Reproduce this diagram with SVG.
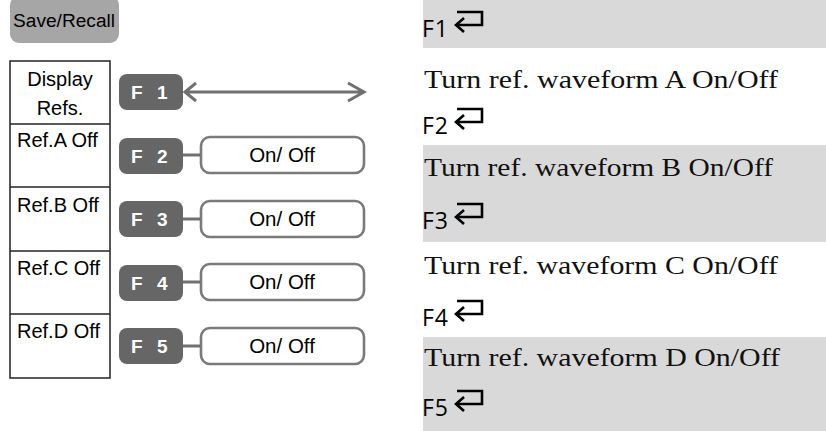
<svg xmlns="http://www.w3.org/2000/svg" width="826" height="431" viewBox="0 0 826 431">
<style>
.sans{font-family:"Liberation Sans",Arial,sans-serif;fill:#000}
.menu{font-size:20px}
.fbtn rect{fill:#666666}
.fbtn text{font-family:"Liberation Sans",Arial,sans-serif;font-weight:bold;font-size:19px;fill:#ffffff}
.onoff rect{fill:#ffffff;stroke:#7a7a7a;stroke-width:2.6}
.onoff text{font-family:"Liberation Sans",Arial,sans-serif;font-size:20.5px;fill:#000;text-anchor:middle}
.conn{stroke:#707070;stroke-width:3;fill:none}
.band{fill:#d9d9d9}
.desc{font-family:"Liberation Serif","Times New Roman",serif;font-size:26px;fill:#111}
.fk{font-family:"Open Sans","Noto Sans",sans-serif;font-size:23px;letter-spacing:1px;fill:#000}
.ret{stroke:#000;stroke-width:2.6;fill:none}
</style>
<defs>
<path id="ret" class="ret" d="M34,-24 H59 V-11 H33 M41,-18 L33,-11 L41,-4"/>
</defs>
<rect width="826" height="431" fill="#ffffff"/>

<g id="save-recall">
<rect x="10" y="-4" width="109" height="47" rx="9" fill="#a6a6a6"/>
<text class="sans" x="13" y="27" font-size="18" textLength="102" lengthAdjust="spacingAndGlyphs">Save/Recall</text>
</g>

<g id="menu">
<rect x="10" y="61" width="100" height="317" fill="#ffffff" stroke="#222" stroke-width="1.5"/>
<line x1="10" y1="124" x2="110" y2="124" stroke="#222" stroke-width="1.5"/>
<line x1="10" y1="187" x2="110" y2="187" stroke="#222" stroke-width="1.5"/>
<line x1="10" y1="251" x2="110" y2="251" stroke="#222" stroke-width="1.5"/>
<line x1="10" y1="314" x2="110" y2="314" stroke="#222" stroke-width="1.5"/>
<text class="sans menu" x="60" y="86" text-anchor="middle">Display</text>
<text class="sans menu" x="60" y="115" text-anchor="middle">Refs.</text>
<text class="sans menu" x="17" y="147">Ref.A Off</text>
<text class="sans menu" x="17" y="212">Ref.B Off</text>
<text class="sans menu" x="17" y="275">Ref.C Off</text>
<text class="sans menu" x="17" y="338">Ref.D Off</text>
</g>

<g id="f1" class="fbtn"><rect x="119" y="74" width="64" height="36" rx="8"/><text x="131" y="99">F</text><text x="157" y="99">1</text></g>
<g id="f2" class="fbtn"><rect x="119" y="138" width="64" height="36" rx="8"/><text x="131" y="163">F</text><text x="157" y="163">2</text></g>
<g id="f3" class="fbtn"><rect x="119" y="201" width="64" height="36" rx="8"/><text x="131" y="226">F</text><text x="157" y="226">3</text></g>
<g id="f4" class="fbtn"><rect x="119" y="265" width="64" height="36" rx="8"/><text x="131" y="290">F</text><text x="157" y="290">4</text></g>
<g id="f5" class="fbtn"><rect x="119" y="328" width="64" height="36" rx="8"/><text x="131" y="353">F</text><text x="157" y="353">5</text></g>

<g id="onoff2" class="onoff"><rect x="201" y="137" width="163" height="36" rx="9"/><text x="282" y="162">On/ Off</text></g>
<g id="onoff3" class="onoff"><rect x="201" y="201" width="163" height="36" rx="9"/><text x="282" y="226">On/ Off</text></g>
<g id="onoff4" class="onoff"><rect x="201" y="264" width="163" height="36" rx="9"/><text x="282" y="289">On/ Off</text></g>
<g id="onoff5" class="onoff"><rect x="201" y="328" width="163" height="36" rx="9"/><text x="282" y="353">On/ Off</text></g>

<g id="connectors">
<path class="conn" d="M185,92 H364 M196,83 L185,92 L196,101 M348,83 L364,92 L348,101"/>
<path class="conn" d="M183,155 H200 M183,219 H200 M183,282 H200 M183,346 H200"/>
</g>

<g id="descriptions">
<rect class="band" x="423" y="0" width="403" height="48"/>
<rect class="band" x="423" y="145" width="403" height="97"/>
<rect class="band" x="423" y="337" width="403" height="94"/>
<text class="fk" x="422" y="37">F1</text><use href="#ret" transform="translate(423,36)"/>
<text class="desc" x="424" y="88" textLength="354" lengthAdjust="spacingAndGlyphs">Turn ref. waveform A On/Off</text>
<text class="fk" x="422" y="134">F2</text><use href="#ret" transform="translate(423,133)"/>
<text class="desc" x="424" y="176" textLength="349" lengthAdjust="spacingAndGlyphs">Turn ref. waveform B On/Off</text>
<text class="fk" x="422" y="229">F3</text><use href="#ret" transform="translate(423,228)"/>
<text class="desc" x="424" y="274" textLength="354" lengthAdjust="spacingAndGlyphs">Turn ref. waveform C On/Off</text>
<text class="fk" x="422" y="326">F4</text><use href="#ret" transform="translate(423,325)"/>
<text class="desc" x="424" y="366" textLength="356" lengthAdjust="spacingAndGlyphs">Turn ref. waveform D On/Off</text>
<text class="fk" x="422" y="416">F5</text><use href="#ret" transform="translate(423,415)"/>
</g>
</svg>
